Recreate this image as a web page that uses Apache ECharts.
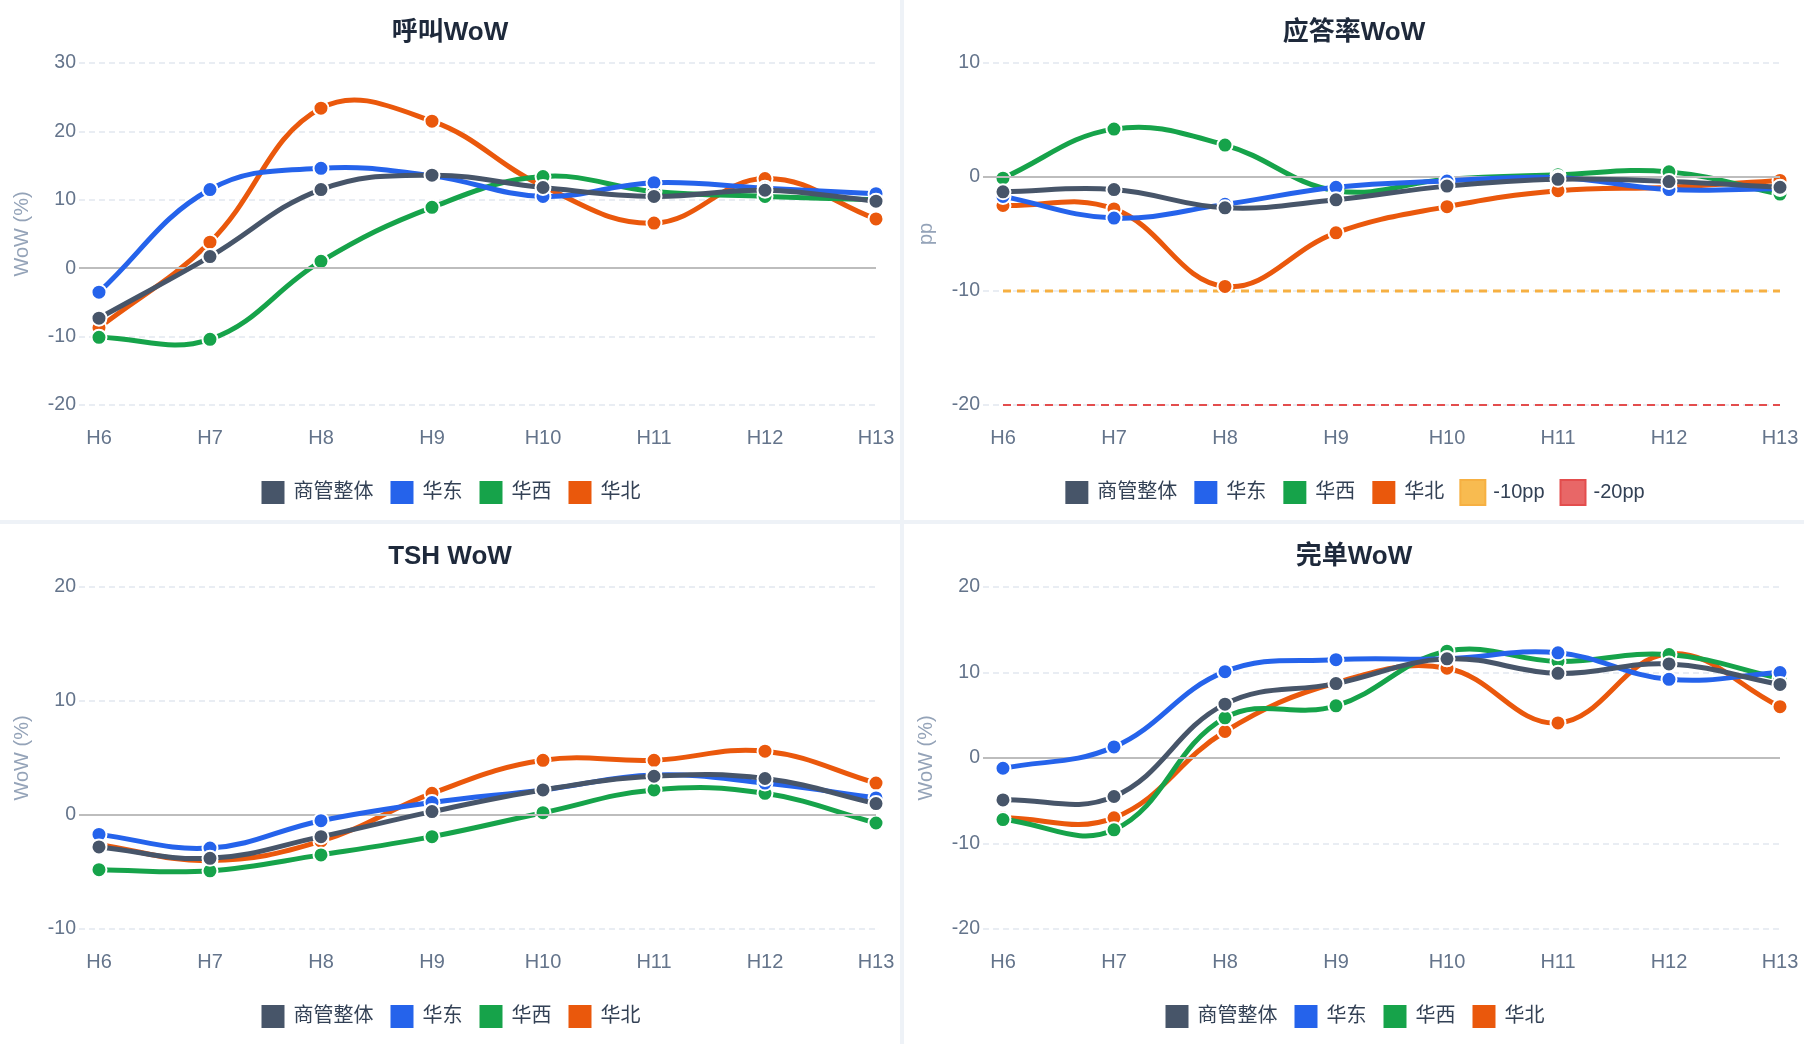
<!DOCTYPE html>
<html>
<head>
<meta charset="utf-8">
<script src="https://cdn.jsdelivr.net/npm/echarts@6/dist/echarts.min.js"></script>
<style>
  html, body { margin: 0; padding: 0; background: #eef2f7; }
  #wrap {
    width: 1804px; height: 1044px;
    display: grid;
    grid-template-columns: 900px 900px;
    grid-template-rows: 520px 520px;
    gap: 4px;
  }
  .panel { background: #fff; width: 900px; height: 520px; }
</style>
</head>
<body>
<div id="wrap">
  <div class="panel" id="c1"></div>
  <div class="panel" id="c2"></div>
  <div class="panel" id="c3"></div>
  <div class="panel" id="c4"></div>
</div>
<script>
// x 轴小时
var hours = ['H6', 'H7', 'H8', 'H9', 'H10', 'H11', 'H12', 'H13'];
var names = ['商管整体', '华东', '华西', '华北'];

// 呼叫WoW
var callOverall = [-7.3, 1.7, 11.5, 13.6, 11.8, 10.5, 11.4, 9.8];
var callEast = [-3.5, 11.5, 14.6, 13.5, 10.5, 12.5, 11.7, 10.9];
var callWest = [-10.1, -10.4, 1.0, 8.9, 13.4, 11.2, 10.5, 10.0];
var callNorth = [-8.7, 3.8, 23.4, 21.5, 12.0, 6.6, 13.1, 7.2];

// 应答率WoW (pp)
var answerOverall = [-1.3, -1.1, -2.7, -2.0, -0.8, -0.2, -0.4, -0.9];
var answerEast = [-1.7, -3.6, -2.4, -0.9, -0.35, -0.05, -1.1, -1.0];
var answerWest = [-0.1, 4.2, 2.8, -1.2, -0.2, 0.2, 0.45, -1.5];
var answerNorth = [-2.5, -2.8, -9.6, -4.9, -2.6, -1.2, -0.9, -0.3];
var answerWarn = [-10, -10, -10, -10, -10, -10, -10, -10];
var answerAlarm = [-20, -20, -20, -20, -20, -20, -20, -20];

// TSH WoW
var tshOverall = [-2.8, -3.8, -1.9, 0.3, 2.2, 3.4, 3.2, 1.0];
var tshEast = [-1.7, -2.9, -0.5, 1.1, 2.2, 3.5, 2.8, 1.5];
var tshWest = [-4.8, -4.9, -3.5, -1.9, 0.2, 2.2, 1.9, -0.7];
var tshNorth = [-2.6, -4.0, -2.3, 1.9, 4.8, 4.8, 5.6, 2.8];

// 完单WoW
var doneOverall = [-4.9, -4.5, 6.3, 8.7, 11.6, 9.9, 11.0, 8.6];
var doneEast = [-1.2, 1.3, 10.1, 11.5, 11.6, 12.3, 9.2, 10.0];
var doneWest = [-7.2, -8.4, 4.7, 6.1, 12.5, 11.3, 12.1, 9.3];
var doneNorth = [-7.0, -7.0, 3.1, 8.8, 10.5, 4.1, 12.2, 6.0];

var colors = ['#475569', '#2563eb', '#16a34a', '#ea580c'];
var fontFamily = '"Liberation Sans", Arial, "Noto Sans CJK SC", sans-serif';
var TENSION = 0.4;

function pairs(values) {
  return values.map(function (v, i) { return [i, v]; });
}

// 样条控制点（tension 0.4，不做裁剪，允许轻微过冲）
function splineCp(prev, cur, next) {
  var d01 = Math.sqrt(Math.pow(cur[0] - prev[0], 2) + Math.pow(cur[1] - prev[1], 2));
  var d12 = Math.sqrt(Math.pow(next[0] - cur[0], 2) + Math.pow(next[1] - cur[1], 2));
  var sum = d01 + d12 || 1;
  var fa = TENSION * d01 / sum;
  var fb = TENSION * d12 / sum;
  var dx = next[0] - prev[0], dy = next[1] - prev[1];
  return {
    before: [cur[0] - fa * dx, cur[1] - fa * dy],
    after: [cur[0] + fb * dx, cur[1] + fb * dy]
  };
}

function curveSeries(name, values, color, z) {
  return {
    name: name,
    type: 'custom',
    z: z,
    data: pairs(values),
    encode: { x: 0, y: 1 },
    itemStyle: { color: color, borderColor: '#fff', borderWidth: 2 },
    renderItem: function (params, api) {
      var pts = values.map(function (v, i) { return api.coord([i, v]); });
      var k = params.dataIndex;
      var n = pts.length;
      var children = [];
      if (k < n - 1) {
        var a = splineCp(pts[k - 1] || pts[k], pts[k], pts[k + 1]);
        var b = splineCp(pts[k], pts[k + 1], pts[k + 2] || pts[k + 1]);
        children.push({
          type: 'bezierCurve',
          z2: 1,
          shape: {
            x1: pts[k][0], y1: pts[k][1],
            cpx1: a.after[0], cpy1: a.after[1],
            cpx2: b.before[0], cpy2: b.before[1],
            x2: pts[k + 1][0], y2: pts[k + 1][1]
          },
          style: { stroke: color, lineWidth: 5, fill: null, lineCap: 'round' }
        });
      }
      children.push({
        type: 'circle',
        z2: 2,
        shape: { cx: pts[k][0], cy: pts[k][1], r: 7.5 },
        style: { fill: color, stroke: '#fff', lineWidth: 2 }
      });
      return { type: 'group', children: children };
    }
  };
}

function zeroSeries() {
  return {
    name: 'zero',
    type: 'line',
    data: [],
    z: 1,
    silent: true,
    markLine: {
      silent: true,
      symbol: 'none',
      label: { show: false },
      lineStyle: { color: '#bdbdbd', width: 2, type: 'solid' },
      data: [{ yAxis: 0 }]
    }
  };
}

function thresholdSeries(name, values, lineColor, fillColor, width) {
  return {
    name: name,
    type: 'line',
    data: pairs(values),
    symbol: 'none',
    z: 1,
    silent: true,
    lineStyle: { color: lineColor, width: width, type: [8, 6] },
    itemStyle: { color: fillColor, borderColor: lineColor, borderWidth: 2, borderType: 'dashed' }
  };
}

function buildOption(title, yName, yMin, yMax, groups, extra) {
  var series = [zeroSeries()];
  groups.forEach(function (vals, i) {
    // 商管整体 在最上层
    series.push(curveSeries(names[i], vals, colors[i], 6 - i));
  });
  var legendData = names.slice();
  (extra || []).forEach(function (s) {
    series.push(s);
    legendData.push(s.name);
  });
  return {
    animation: false,
    textStyle: { fontFamily: fontFamily },
    title: {
      text: title,
      left: 'center',
      top: 15,
      textStyle: { fontSize: 26, fontWeight: 'bold', color: '#1e293b', fontFamily: fontFamily }
    },
    legend: {
      data: legendData,
      top: 474,
      left: 'center',
      icon: 'rect',
      itemWidth: 25,
      itemHeight: 25,
      itemGap: 15,
      textStyle: { fontSize: 20, color: '#334155', padding: [0, 0, 0, 3] }
    },
    grid: { left: 79, right: 24, top: 63, bottom: 115, containLabel: false },
    xAxis: {
      type: 'value',
      min: -0.18,
      max: hours.length - 1,
      axisLine: { show: false },
      axisTick: { show: false },
      splitLine: { show: false },
      axisLabel: {
        customValues: hours.map(function (h, i) { return i; }),
        formatter: function (v) { return hours[Math.round(v)]; },
        margin: 23,
        fontSize: 20,
        color: '#64748b'
      }
    },
    yAxis: {
      type: 'value',
      min: yMin,
      max: yMax,
      interval: 10,
      name: yName,
      nameLocation: 'middle',
      nameGap: 47,
      nameTextStyle: { color: '#94a3b8', fontSize: 20 },
      axisLine: { show: false },
      axisTick: { show: false },
      axisLabel: { fontSize: 19.5, color: '#64748b', margin: 3 },
      splitLine: { lineStyle: { color: '#e2e8f0', width: 1.5, type: [6, 4] } }
    },
    series: series
  };
}

var charts = [
  ['c1', buildOption('呼叫WoW', 'WoW (%)', -20, 30, [callOverall, callEast, callWest, callNorth])],
  ['c2', buildOption('应答率WoW', 'pp', -20, 10, [answerOverall, answerEast, answerWest, answerNorth], [
    thresholdSeries('-10pp', answerWarn, '#f6b042', '#f8bb50', 3),
    thresholdSeries('-20pp', answerAlarm, '#e34d4d', '#e86767', 2)
  ])],
  ['c3', buildOption('TSH WoW', 'WoW (%)', -10, 20, [tshOverall, tshEast, tshWest, tshNorth])],
  ['c4', buildOption('完单WoW', 'WoW (%)', -20, 20, [doneOverall, doneEast, doneWest, doneNorth])]
];

charts.forEach(function (c) {
  var chart = echarts.init(document.getElementById(c[0]));
  chart.setOption(c[1]);
});
</script>
</body>
</html>
